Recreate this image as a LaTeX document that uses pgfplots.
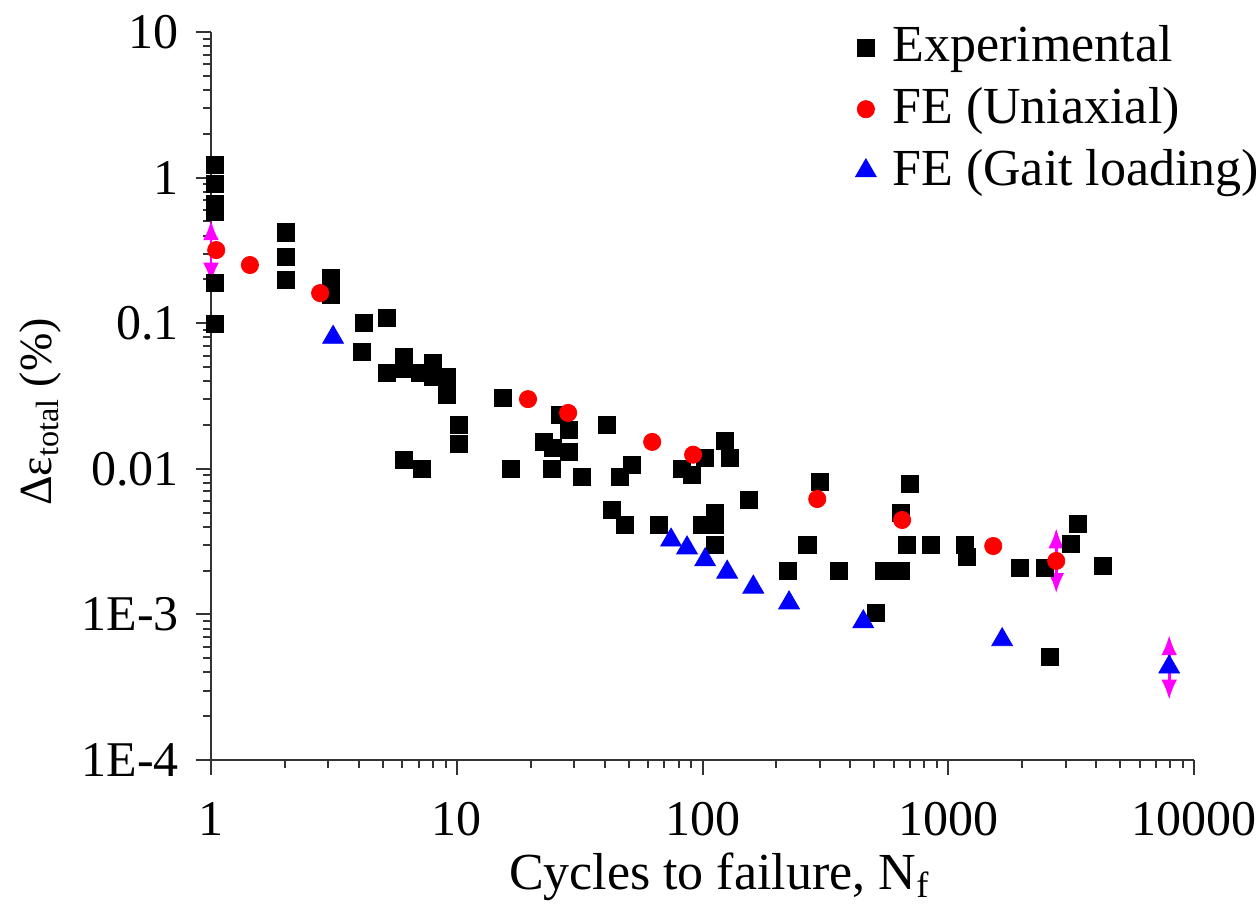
\documentclass[border=0pt]{standalone}
\usepackage{fontspec}
\setmainfont{Liberation Serif}
\usepackage{pgfplots}
\pgfplotsset{compat=1.18}
\usetikzlibrary{arrows.meta}
\definecolor{mag}{RGB}{255,0,255}
\definecolor{pred}{RGB}{255,0,0}
\definecolor{pblue}{RGB}{0,0,255}
\pgfplotsset{mylegend/.style={legend image code/.code={\path (0.15cm,0cm) (0.69cm,0cm); \draw[mark repeat=2,mark phase=2,##1] plot coordinates {(0cm,0cm) (0.3cm,0cm) (0.6cm,0cm)};}}}
\begin{document}
\fontsize{25}{30}\selectfont
\begin{tikzpicture}
\useasboundingbox (-105.5pt,-76pt) rectangle (524.5pt,380pt);
\begin{axis}[
  at={(0pt,0pt)}, anchor=south west,
  scale only axis, width=491.5pt, height=364pt,
  xmode=log, ymode=log,
  xmin=1, xmax=10000, ymin=1e-4, ymax=10,
  axis lines*=left,
  axis line style={line width=1.1pt, black!80},
  tick align=outside,
  major tick length=7.5pt, minor tick length=4pt,
  every tick/.style={line width=1pt, black!80},
  xtick={1,10,100,1000,10000},
  xticklabels={1,10,100,1000,10000},
  ytick={1e-4,1e-3,0.01,0.1,1,10},
  yticklabels={1E-4,1E-3,0.01,0.1,1,10},
  /pgf/number format/assume math mode=true,
  ticklabel style={font=\fontsize{25}{30}\selectfont},
  xticklabel style={yshift=-5pt},
  xlabel={Cycles to failure, N\textsubscript{f}},
  ylabel={Δε\textsubscript{total} (\%)},
  xlabel style={font=\fontsize{26}{30}\selectfont, at={(axis description cs:0.517,-0.160)}, anchor=center},
  ylabel style={font=\fontsize{23}{28}\selectfont, at={(axis description cs:-0.174,0.478)}, anchor=center},
  clip=false,
  legend style={at={(axis description cs:1.077,1.02)}, anchor=north east,
    draw=none, fill=none, font=\fontsize{26}{30}\selectfont,
    row sep=5pt},
  legend cell align=left,
]
\addplot[only marks, mylegend, mark=square*, mark size=4.3pt, black] coordinates {
(1.04,1.22) (1.04,0.90) (1.04,0.66) (1.04,0.58) (1.04,0.19) (1.04,0.099)
(2.02,0.42) (2.02,0.285) (2.02,0.198) (3.08,0.204) (3.08,0.156)
(4.2,0.100) (5.2,0.109) (4.12,0.0634) (5.2,0.0455) (6.1,0.0586) (6.1,0.049)
(7.1,0.0455) (8.0,0.0533) (8.0,0.043) (9.1,0.043) (9.1,0.032)
(10.2,0.020) (10.2,0.0148) (6.1,0.0115) (7.2,0.0100)
(15.4,0.0306) (16.6,0.0100) (26.3,0.0234) (28.6,0.0185) (22.7,0.0153)
(24.7,0.0139) (28.6,0.0130) (24.4,0.0100) (32.4,0.0088) (40.9,0.0200)
(51.7,0.0106) (46.2,0.0088) (42.9,0.0052) (48.4,0.0041) (66.6,0.0041)
(82.6,0.0100) (90.7,0.0091) (102.5,0.0119) (123.6,0.0155) (129.5,0.0119)
(112.5,0.0050) (99.6,0.0041) (112.5,0.0041) (112.5,0.0030)
(155,0.0061) (301,0.0081) (700,0.0079) (643,0.0050)
(267,0.0030) (223,0.0020) (360,0.0020) (549,0.0020) (643,0.0020)
(680,0.0030) (852,0.0030) (1172,0.0030) (1194,0.00248) (509,0.00102)
(1963,0.00208) (2478,0.00208) (3163,0.00305) (3378,0.00418) (4270,0.00215)
(2600,0.00051)
};
\addlegendentry{Experimental}
\addplot[only marks, mylegend, mark=*, mark size=4.3pt, pred] coordinates {
(1.05,0.318) (1.44,0.251) (2.78,0.161) (19.5,0.0301) (28.4,0.0242)
(62.4,0.0153) (91.6,0.0125) (293,0.0062) (649,0.00445) (1524,0.00295)
(2750,0.00233)
};
\addlegendentry{FE (Uniaxial)}
\addplot[only marks, mylegend, mark=triangle*, mark size=6pt, pblue] coordinates {
(3.14,0.080) (74.5,0.00324) (86.5,0.00286) (102.5,0.00237) (126,0.00195)
(161,0.00154) (225,0.00120) (451,0.00089) (1657,0.00067) (7925,0.000435)
};
\addlegendentry{FE (Gait loading)}
\addplot[mag, line width=1.4pt, {Latex[length=10pt,width=8pt]}-{Latex[length=10pt,width=8pt]}, forget plot] coordinates {(1,0.19) (1,0.51)};
\addplot[mag, line width=1.4pt, {Latex[length=10pt,width=8pt]}-{Latex[length=10pt,width=8pt]}, forget plot] coordinates {(2750,0.0014) (2750,0.0039)};
\addplot[mag, line width=1.4pt, {Latex[length=10pt,width=8pt]}-{Latex[length=10pt,width=8pt]}, forget plot] coordinates {(7925,0.00026) (7925,0.00072)};
\end{axis}
\end{tikzpicture}
\end{document}
